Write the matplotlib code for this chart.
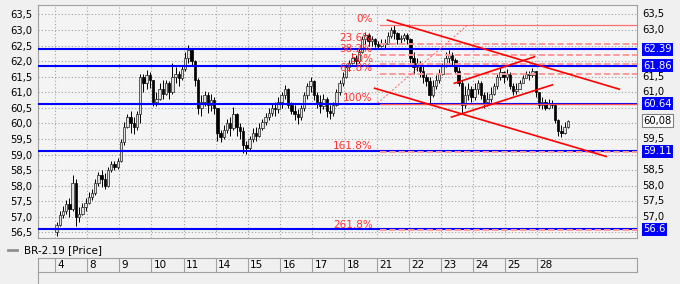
import matplotlib
matplotlib.use('Agg')
import matplotlib.pyplot as plt
from matplotlib.lines import Line2D
import numpy as np

plt.rcParams['font.family'] = ['DejaVu Sans']

# ---------------- data ----------------
days = ['4', '8', '9', '10', '11', '14', '15', '16', '17', '18', '21', '22', '23', '24', '25', '28']
bars_per_day = 10
first_open = 56.5

close = [
    56.75, 57.05, 57.2, 57.4, 57.25, 58.1, 57.0, 57.1, 57.3, 57.45,
    57.65, 57.75, 58.1, 58.35, 58.2, 58.0, 58.5, 58.7, 58.6, 58.8,
    59.4, 59.9, 60.2, 60.0, 59.9, 60.3, 61.5, 61.3, 61.55, 61.4,
    60.7, 60.8, 61.1, 60.95, 61.3, 61.0, 61.5, 61.6, 61.45, 61.75,
    62.1, 62.35, 62.0, 61.4, 60.5, 60.7, 60.9, 60.6, 60.75, 60.5,
    59.7, 59.55, 59.8, 60.0, 59.85, 60.3, 59.9, 59.75, 59.3, 59.2,
    59.5, 59.7, 59.6, 59.85, 60.05, 60.2, 60.35, 60.5, 60.45, 60.7,
    60.9, 61.1, 60.6, 60.4, 60.3, 60.2, 60.5, 60.9, 61.2, 61.35,
    60.9, 60.7, 60.55, 60.8, 60.4, 60.35, 60.6, 61.0, 61.3, 61.5,
    61.8, 61.95, 62.1, 62.0, 62.3, 62.7, 62.85, 62.65, 62.7, 62.55,
    62.5, 62.6, 62.55, 62.8, 63.0, 62.9, 62.7, 62.75, 62.85, 62.7,
    62.1, 61.8, 61.95, 61.7, 61.5, 61.35, 60.9, 61.2, 61.4, 61.6,
    61.85, 62.1, 62.2, 62.05, 61.7, 61.3, 60.6, 60.9, 61.1, 60.85,
    61.1, 61.3, 60.9, 60.7, 60.8, 60.95, 61.2, 61.5, 61.65, 61.5,
    61.6, 61.2, 61.05, 61.1, 61.3, 61.45, 61.6, 61.55, 61.7, 61.0,
    60.6, 60.7, 60.5, 60.65, 60.6, 60.1, 59.75, 59.7, 59.9, 60.08,
]
high = [
    56.85, 57.2, 57.35, 57.55, 57.6, 58.35, 58.2, 57.3, 57.45, 57.6,
    57.8, 57.9, 58.2, 58.45, 58.5, 58.4, 58.6, 58.8, 58.8, 58.9,
    59.5, 60.05, 60.3, 60.4, 60.2, 60.4, 61.6, 61.6, 61.72, 61.65,
    61.4, 61.0, 61.3, 61.4, 61.4, 61.35, 61.95, 61.8, 61.7, 61.85,
    62.3, 62.52, 62.4, 62.05, 61.45, 60.9, 61.05, 61.0, 60.95, 60.85,
    60.5, 59.8, 59.95, 60.15, 60.2, 60.53, 60.35, 60.0, 59.9, 59.45,
    59.6, 59.85, 59.9, 60.0, 60.15, 60.35, 60.5, 60.65, 60.7, 60.85,
    61.0, 61.24, 61.15, 60.7, 60.6, 60.45, 60.6, 61.0, 61.3, 61.5,
    61.4, 61.0, 60.9, 60.95, 60.85, 60.6, 60.7, 61.1, 61.4, 61.65,
    61.9, 62.05, 62.25, 62.2, 62.4, 62.8, 62.94, 62.9, 62.8, 62.75,
    62.65, 62.7, 62.7, 62.95, 63.1, 63.16, 62.95, 62.85, 62.92, 62.9,
    62.75, 62.3, 62.1, 62.0, 61.85, 61.6, 61.5, 61.4, 61.55, 61.75,
    61.95, 62.3, 62.37, 62.3, 62.1, 61.8, 61.4, 61.2, 61.3, 61.2,
    61.3, 61.4, 61.35, 61.0, 61.0, 61.18, 61.3, 61.6, 61.78, 61.7,
    61.75, 61.65, 61.3, 61.3, 61.4, 61.55, 61.7, 61.7, 61.78, 61.7,
    61.0, 60.85, 60.8, 60.8, 60.75, 60.65, 60.15, 59.95, 60.05, 60.12,
]
low = [
    56.4, 56.7, 56.95, 57.1, 57.0, 57.2, 56.7, 56.85, 57.05, 57.2,
    57.4, 57.55, 57.7, 58.0, 57.95, 57.9, 57.95, 58.45, 58.5, 58.55,
    58.75, 59.3, 59.85, 59.7, 59.65, 59.8, 60.0, 61.0, 61.1, 61.15,
    60.55, 60.55, 60.75, 60.8, 60.9, 60.8, 60.95, 61.3, 61.2, 61.4,
    61.7, 61.95, 61.85, 61.2, 60.3, 60.25, 60.55, 60.35, 60.4, 60.3,
    59.45, 59.41, 59.5, 59.7, 59.6, 59.8, 59.6, 59.5, 59.05, 59.03,
    59.1, 59.4, 59.45, 59.55, 59.8, 59.95, 60.1, 60.25, 60.25, 60.35,
    60.5, 60.8, 60.5, 60.3, 60.1, 59.98, 60.1, 60.4, 60.8, 61.0,
    60.75, 60.5, 60.35, 60.45, 60.2, 60.15, 60.25, 60.55, 60.9, 61.2,
    61.45, 61.7, 61.9, 61.85, 61.95, 62.25, 62.55, 62.5, 62.5, 62.45,
    62.4, 62.45, 62.43, 62.55, 62.75, 62.7, 62.55, 62.6, 62.65, 62.55,
    61.95, 61.6, 61.7, 61.5, 61.3, 61.2, 60.64, 60.85, 61.1, 61.3,
    61.55, 61.8, 61.9, 61.85, 61.6, 61.2, 60.34, 60.5, 60.75, 60.7,
    60.75, 60.95, 60.8, 60.5, 60.55, 60.7, 60.9, 61.1, 61.4, 61.3,
    61.4, 61.1, 60.92, 60.95, 61.1, 61.3, 61.45, 61.4, 61.5, 60.85,
    60.5, 60.45, 60.44, 60.45, 60.5, 60.0, 59.6, 59.57, 59.65, 59.85,
]

blue_levels = [62.39, 61.86, 60.64, 59.11, 56.6]
blue_labels = ['62.39', '61.86', '60.64', '59.11', '56.6']
last_price = 60.08
last_label = '60,08'

fib_high = 63.16
fib_low = 60.64
fib_ratios = [0.0, 0.236, 0.382, 0.5, 0.618, 1.0, 1.618, 2.618]
fib_names = ['0%', '23.6%', '38.2%', '50%', '61.8%', '100%', '161.8%', '261.8%']
fib_start = 10.1          # day coordinate where fib levels begin
fib_label_x = 9.88
fib_diag = [(10.03, 60.65), (12.83, 63.16)]

trend_lines = [
    [(10.34, 63.32), (17.55, 61.10)],   # upper falling line
    [(9.94, 61.13), (17.14, 58.94)],    # lower falling line
    [(12.42, 61.29), (14.91, 62.14)],   # rising channel top
    [(12.33, 60.205), (15.47, 61.24)],  # rising channel bottom
]

y_ticks = [56.5, 57.0, 57.5, 58.0, 58.5, 59.0, 59.5, 60.0, 60.5, 61.0, 61.5, 62.0, 62.5, 63.0, 63.5]
legend_text = 'BR-2.19 [Price]'

# ---------------- layout ----------------
W, H = 680, 284
fig = plt.figure(figsize=(W / 100, H / 100), dpi=100, facecolor='#f0f0f0')

def fx(px):
    return px / W

def fy(py):
    return 1 - py / H

L_PX, R_PX, T_PX, B_PX = 38, 637, 5, 238
ax = fig.add_axes([fx(L_PX), fy(B_PX), fx(R_PX) - fx(L_PX), fy(T_PX) - fy(B_PX)])
ax.set_facecolor('#f4f4f4')
XMIN, XMAX = -0.529, 18.10
ax.set_xlim(XMIN, XMAX)
ax.set_ylim(56.32, 63.805)

grid_c = '#a0a0a0'
ax.set_xticks(range(len(days)))
ax.set_xticklabels([])
ax.set_yticks(y_ticks)
ax.set_yticklabels([f'{v:.1f}'.replace('.', ',') for v in y_ticks], fontsize=7.2)
ax.tick_params(length=0, pad=4)
ax.grid(True, color=grid_c, linestyle=(0, (1, 2)), linewidth=0.8)
for s in ax.spines.values():
    s.set_color(grid_c)
    s.set_linewidth(0.8)

# right-side labels (those hidden behind the value boxes are left out)
ytr = ax.get_yaxis_transform()
box_values = blue_levels + [last_price]
for v in y_ticks:
    if min(abs(v - b) for b in box_values) < 0.2:
        continue
    ax.text(1 + 5 / 599, v, f'{v:.1f}'.replace('.', ','), transform=ytr, ha='left', va='center',
            fontsize=7.2, clip_on=False, zorder=5)

# ---------------- candles ----------------
n = len(close)
x = np.arange(n) / bars_per_day + 0.5 / bars_per_day
c = np.array(close)
o = np.array([first_open] + close[:-1])
hi = np.array(high)
lo = np.array(low)
ax.vlines(x, lo, hi, color='black', linewidth=0.7, zorder=3)
up = c >= o
body = np.where(np.abs(c - o) < 0.02, 0.02, c - o)
ax.bar(x[up], body[up], bottom=o[up], width=0.075, color='#e0e0e0', edgecolor='#202020',
       linewidth=0.5, zorder=3.2)
ax.bar(x[~up], body[~up], bottom=o[~up], width=0.075, color='black', edgecolor='black',
       linewidth=0.5, zorder=3.2)

# ---------------- horizontal blue levels ----------------
for v in blue_levels:
    ax.axhline(v, color='#0000ff', linewidth=1.5, zorder=4)

# ---------------- fibonacci ----------------
rng = fib_high - fib_low
for r, name in zip(fib_ratios, fib_names):
    lvl = fib_high - r * rng
    if r == 0.0:
        ax.plot([fib_start, XMAX], [lvl, lvl], color='#ff7070', linewidth=0.9, zorder=4.5)
    elif r == 1.0:
        ax.plot([fib_start, XMAX], [lvl, lvl], color='#ff5050', linewidth=0.9, zorder=4.5)
    else:
        ax.plot([fib_start, XMAX], [lvl, lvl], color='#ff9a9a', linewidth=1.4,
                linestyle=(0, (3.3, 1.5)), zorder=4.5)
    ax.text(fib_label_x, lvl + 0.02, name, color='#ff3030', fontsize=7.5, ha='right',
            va='bottom', zorder=6)

ax.plot([p[0] for p in fib_diag], [p[1] for p in fib_diag], color='#ff6060', linewidth=0.7,
        linestyle=(0, (2, 2)), zorder=4.5)

for ln in trend_lines:
    ax.plot([p[0] for p in ln], [p[1] for p in ln], color='#ff0000', linewidth=1.2, zorder=5)

# ---------------- right-side value boxes ----------------
for v, lab in zip(blue_levels, blue_labels):
    ax.text(1 + 6 / 599, v, lab, transform=ytr, ha='left', va='center', fontsize=7.2,
            color='white', clip_on=False, zorder=10,
            bbox=dict(boxstyle='square,pad=0.15', fc='#0000ff', ec='none'))
ax.text(1 + 6 / 599, last_price, last_label, transform=ytr, ha='left', va='center',
        fontsize=7.2, color='black', clip_on=False, zorder=10,
        bbox=dict(boxstyle='square,pad=0.15', fc='white', ec='#808080', lw=0.8))

# ---------------- date row ----------------
axd = fig.add_axes([fx(L_PX), fy(272), fx(R_PX) - fx(L_PX), fy(258) - fy(272)])
axd.set_facecolor('#f0f0f0')
axd.set_xlim(XMIN, XMAX)
axd.set_ylim(0, 1)
axd.set_xticks([])
axd.set_yticks([])
for s in axd.spines.values():
    s.set_color(grid_c)
    s.set_linewidth(0.8)
axd.vlines(range(len(days)), 0, 1, color=grid_c, linewidth=0.8)
for i, d in enumerate(days):
    axd.text(i + 0.07, 0.5, d, ha='left', va='center', fontsize=7.5)

fig.add_artist(Line2D([fx(L_PX), fx(L_PX)], [fy(272), fy(284)], color=grid_c, linewidth=0.8))

# legend
fig.add_artist(Line2D([fx(8), fx(17)], [fy(250), fy(250)], color='#909090', linewidth=2))
fig.text(fx(24), fy(250), legend_text, ha='left', va='center', fontsize=7.5)

fig.savefig('out.png', dpi=100, facecolor=fig.get_facecolor())
